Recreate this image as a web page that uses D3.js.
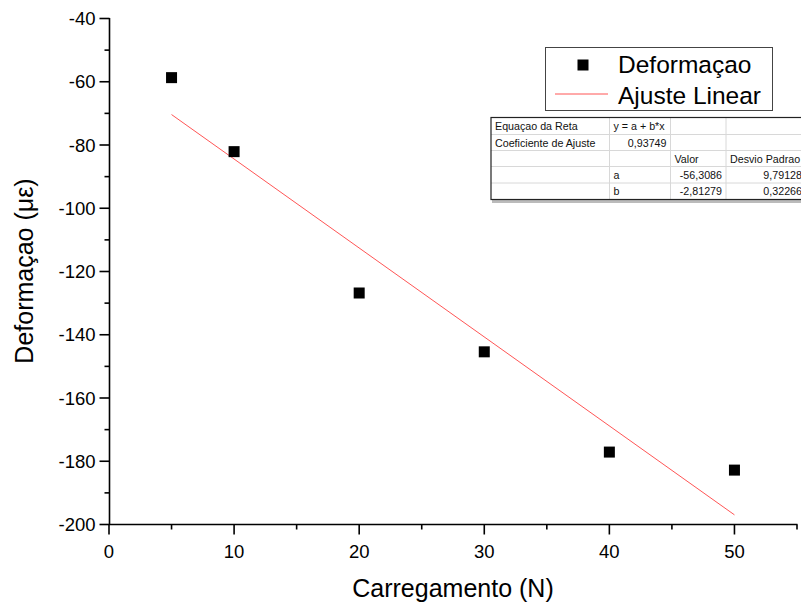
<!DOCTYPE html>
<html>
<head>
<meta charset="utf-8">
<script src="https://cdn.jsdelivr.net/npm/d3@7"></script>
<style>
  body { margin: 0; background: #fff; }
  svg { display: block; font-family: Arial, "Liberation Sans", sans-serif; }
</style>
</head>
<body>
<svg id="chart" width="801" height="602"></svg>
<script>
// measured points (load in N, strain)
const loads = [5, 10, 20, 30, 40, 50];
const strains = [-58.7, -82.1, -126.8, -145.4, -177.1, -182.8];

// linear fit y = a + b*x
const fitA = -56.3086;
const fitB = -2.81279;

const xTicks = [0, 10, 20, 30, 40, 50];
const yTicks = [-40, -60, -80, -100, -120, -140, -160, -180, -200];

const tableRows = [
    ["Equaçao da Reta", "y = a + b*x", "", ""],
    ["Coeficiente de Ajuste", "0,93749", "", ""],
    ["", "", "Valor", "Desvio Padrao"],
    ["", "a", "-56,3086", "9,79128"],
    ["", "b", "-2,81279", "0,32266"]
];
// alignment per cell: l = left, r = right
const tableAlign = [
    ["l", "l", "l", "l"],
    ["l", "r", "l", "l"],
    ["l", "l", "l", "l"],
    ["l", "l", "r", "r"],
    ["l", "l", "r", "r"]
];

const svg = d3.select("#chart");

const x = d3.scaleLinear().domain([0, 55]).range([109, 797]);
const y = d3.scaleLinear().domain([-200, -40]).range([524.5, 18.5]);

// axes
const xAxis = svg.append("g").attr("transform", "translate(0,524.5)");
xAxis.append("line").attr("x1", 109).attr("x2", 797.5).attr("stroke", "#000").attr("stroke-width", 1.6);
for (let v = 0; v <= 55; v += 5) {
    let major = xTicks.includes(v);
    xAxis.append("line")
        .attr("x1", x(v)).attr("x2", x(v))
        .attr("y1", 0).attr("y2", major ? 10 : 5)
        .attr("stroke", "#000").attr("stroke-width", 1.6);
}
xAxis.selectAll("text.tick").data(xTicks).enter().append("text")
    .attr("x", d => x(d)).attr("y", 33)
    .attr("text-anchor", "middle")
    .attr("font-size", 18.5)
    .text(d => d);

const yAxis = svg.append("g").attr("transform", "translate(109.5,0)");
yAxis.append("line").attr("y1", 18).attr("y2", 525).attr("stroke", "#000").attr("stroke-width", 1.6);
for (let v = -200; v <= -40; v += 10) {
    let major = yTicks.includes(v);
    yAxis.append("line")
        .attr("x1", 0).attr("x2", major ? -10 : -5)
        .attr("y1", y(v)).attr("y2", y(v))
        .attr("stroke", "#000").attr("stroke-width", 1.6);
}
yAxis.selectAll("text.tick").data(yTicks).enter().append("text")
    .attr("x", -14).attr("y", d => y(d) + 6.5)
    .attr("text-anchor", "end")
    .attr("font-size", 18.5)
    .text(d => d);

// axis titles
svg.append("text")
    .attr("x", 453).attr("y", 597)
    .attr("text-anchor", "middle")
    .attr("font-size", 25)
    .text("Carregamento (N)");

svg.append("text")
    .attr("transform", "translate(33,271) rotate(-90)")
    .attr("text-anchor", "middle")
    .attr("font-size", 25)
    .text("Deformaçao (με)");

// fit line
const xMin = d3.min(loads), xMax = d3.max(loads);
svg.append("line")
    .attr("x1", x(xMin)).attr("y1", y(fitA + fitB * xMin))
    .attr("x2", x(xMax)).attr("y2", y(fitA + fitB * xMax))
    .attr("stroke", "#ff2a2a").attr("stroke-width", 0.8);

// data points
const sz = 11;
svg.selectAll("rect.pt").data(loads).enter().append("rect")
    .attr("x", (d, i) => x(d) - sz / 2)
    .attr("y", (d, i) => y(strains[i]) - sz / 2)
    .attr("width", sz).attr("height", sz)
    .attr("fill", "#000");

// legend
const leg = svg.append("g");
leg.append("rect").attr("x", 545.5).attr("y", 47.5).attr("width", 227).attr("height", 63)
    .attr("fill", "#fff").attr("stroke", "#444").attr("stroke-width", 1);
leg.append("rect").attr("x", 583 - sz / 2).attr("y", 65 - sz / 2).attr("width", sz).attr("height", sz).attr("fill", "#000");
leg.append("line").attr("x1", 555).attr("x2", 608).attr("y1", 94).attr("y2", 94)
    .attr("stroke", "#ff2a2a").attr("stroke-width", 0.8);
leg.append("text").attr("x", 618).attr("y", 73).attr("font-size", 24.5).text("Deformaçao");
leg.append("text").attr("x", 618).attr("y", 104).attr("font-size", 24.5).text("Ajuste Linear");

// fit results table
const colX = [491, 609.5, 670.5, 726, 806];
const rowY = [117.5, 134.5, 150.5, 166.5, 183, 199.5];
const tbl = svg.append("g");
tbl.append("rect").attr("x", 492).attr("y", 200).attr("width", 320).attr("height", 3).attr("fill", "#bbb");
tbl.append("rect").attr("x", colX[0]).attr("y", rowY[0]).attr("width", colX[4] - colX[0]).attr("height", rowY[5] - rowY[0])
    .attr("fill", "#fff");
for (let r = 1; r < 5; r++) {
    tbl.append("line").attr("x1", colX[0]).attr("x2", colX[4]).attr("y1", rowY[r]).attr("y2", rowY[r])
        .attr("stroke", "#d8d8d8").attr("stroke-width", 1);
}
for (let c = 1; c < 4; c++) {
    tbl.append("line").attr("x1", colX[c]).attr("x2", colX[c]).attr("y1", rowY[0]).attr("y2", rowY[5])
        .attr("stroke", "#d8d8d8").attr("stroke-width", 1);
}
tbl.append("rect").attr("x", colX[0]).attr("y", rowY[0]).attr("width", colX[4] - colX[0]).attr("height", rowY[5] - rowY[0])
    .attr("fill", "none").attr("stroke", "#222").attr("stroke-width", 1.2);
tableRows.forEach((row, r) => {
    row.forEach((txt, c) => {
        if (!txt) return;
        let right = tableAlign[r][c] === "r";
        tbl.append("text")
            .attr("x", right ? colX[c + 1] - 4 : colX[c] + 4)
            .attr("y", rowY[r] + 12)
            .attr("text-anchor", right ? "end" : "start")
            .attr("font-size", 10.7)
            .attr("fill", "#111")
            .text(txt);
    });
});
</script>
</body>
</html>
